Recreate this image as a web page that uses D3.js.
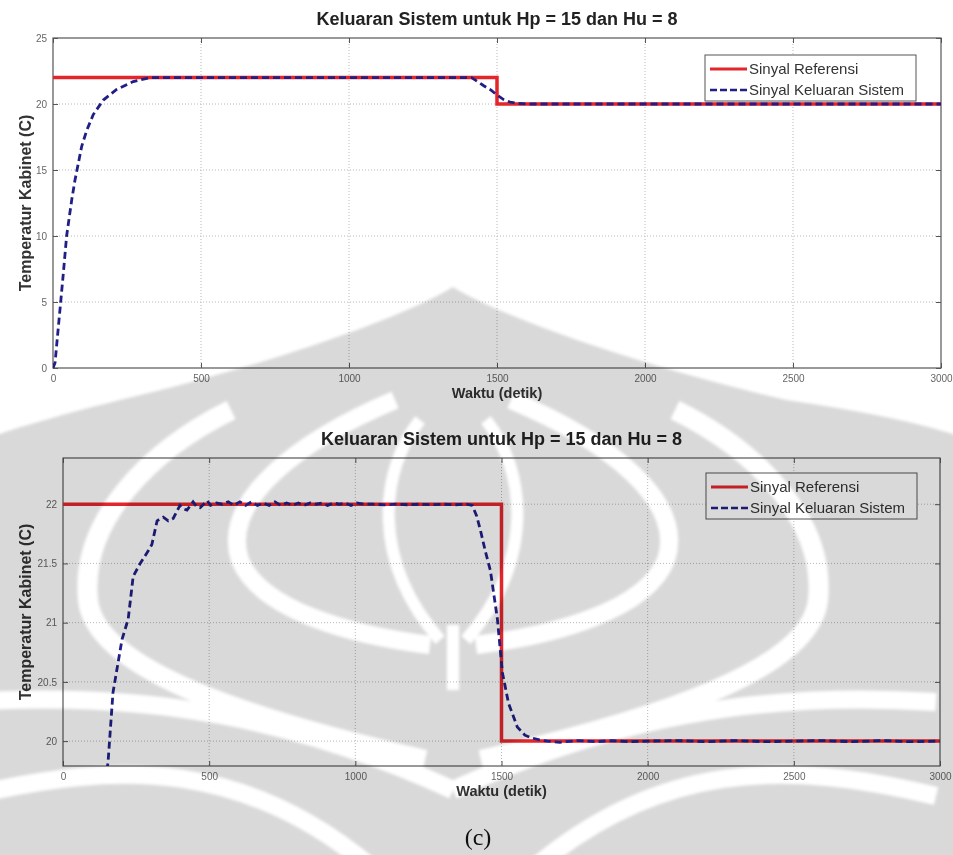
<!DOCTYPE html>
<html>
<head>
<meta charset="utf-8">
<script src="https://cdn.jsdelivr.net/npm/d3@7"></script>
<style>
  body { margin: 0; background: #fff; }
  svg { display: block; font-family: "Liberation Sans", Arial, sans-serif; }
</style>
</head>
<body>
<svg id="chart" width="953" height="855"></svg>
<script>
// ---- data ----
const chartTitle = "Keluaran Sistem untuk Hp = 15 dan Hu = 8";
const xLabel = "Waktu (detik)";
const yLabel = "Temperatur Kabinet (C)";
const legendNames = ["Sinyal Referensi", "Sinyal Keluaran Sistem"];

const xTicks = [0, 500, 1000, 1500, 2000, 2500, 3000];
const topYTicks = [0, 5, 10, 15, 20, 25];
const bottomYTicks = [20, 20.5, 21, 21.5, 22];

// reference signal (step from 22 to 20 at t = 1500)
const refTime  = [0, 1500, 1500, 3000];
const refValue = [22, 22, 20, 20];

// system output, upper plot (full range)
const topTime   = [0, 7, 18, 26, 35, 46, 63, 74, 97, 114, 136, 170, 215, 271, 328, 405, 800, 1200, 1414, 1454, 1480, 1499, 1521, 1544, 1565, 1600, 2000, 2500, 3000];
const topOutput = [0, 0.4, 3.1, 5.0, 7.2, 10.0, 12.7, 14.2, 16.8, 18.0, 19.2, 20.3, 21.1, 21.7, 22.0, 22.0, 22.0, 22.0, 22.0, 21.4, 21.05, 20.7, 20.35, 20.15, 20.05, 20.0, 20.0, 20.0, 20.0];

// system output, lower plot (zoomed in)
const bottomTime = [120, 154, 171, 202, 223, 240, 264, 290, 304, 322, 343, 360, 377, 400, 412, 424, 445, 457, 469, 481, 493, 505,
  525, 545, 565, 585, 605, 625, 645, 665, 685, 705, 725, 745, 765, 785, 805, 825, 845, 865, 885, 905, 925, 945, 965, 985,
  1005, 1030, 1060, 1100, 1140, 1180, 1220, 1260, 1300, 1340, 1380, 1400,
  1415, 1428, 1445, 1462, 1486, 1503, 1524, 1554, 1580, 1599, 1630, 1657,
  1700, 1760, 1820, 1880, 1940, 2000, 2100, 2200, 2300, 2400, 2500, 2600, 2700, 2800, 2900, 3000];
const bottomOutput = [19.2, 19.82, 20.41, 20.86, 21.03, 21.39, 21.50, 21.60, 21.66, 21.86, 21.89, 21.86, 21.88, 21.99, 21.96, 21.95, 22.02, 21.98, 21.97, 22.00, 22.03, 21.99,
  22.01, 22.00, 22.02, 21.99, 22.02, 21.99, 22.02, 21.99, 22.01, 21.99, 22.02, 21.99, 22.01, 21.99, 22.01, 21.99, 22.01, 22.00, 22.01, 21.99, 22.01, 22.00, 22.01, 21.99,
  22.01, 22.00, 22.00, 21.995, 22.00, 21.995, 22.00, 21.995, 22.00, 21.995, 22.00, 21.99,
  21.90, 21.78, 21.60, 21.44, 21.03, 20.58, 20.32, 20.12, 20.05, 20.03, 20.01, 20.00,
  19.99, 20.005, 19.995, 20.005, 19.995, 20.0, 20.005, 19.995, 20.005, 19.995, 20.0, 20.005, 19.995, 20.005, 19.995, 20.0];

// ---- drawing ----
const svg = d3.select("#chart");
const FONT = "'Liberation Sans', Arial, sans-serif";
const RED = "#e3262b", BLUE = "#1f1f86";

const panels = [
  { id: "top", left: 53, right: 941, top: 38, bottom: 368, yDomain: [0, 25], yTicks: topYTicks,
    outTime: topTime, outValue: topOutput, legendX: 705, legendY: 55 },
  { id: "bot", left: 63, right: 940, top: 458, bottom: 766, yDomain: [19.79, 22.39], yTicks: bottomYTicks,
    outTime: bottomTime, outValue: bottomOutput, legendX: 706, legendY: 473 }
];

panels.forEach(function(p) {
  const x = d3.scaleLinear().domain([0, 3000]).range([p.left, p.right]);
  const y = d3.scaleLinear().domain(p.yDomain).range([p.bottom, p.top]);
  const g = svg.append("g");

  // grid
  g.selectAll(".gx").data(xTicks.slice(1, -1)).enter().append("line")
    .attr("x1", d => x(d)).attr("x2", d => x(d))
    .attr("y1", p.top).attr("y2", p.bottom)
    .attr("stroke", "#b8b8b8").attr("stroke-dasharray", "1,2");
  g.selectAll(".gy").data(p.yTicks.filter(d => y(d) > p.top + 1 && y(d) < p.bottom - 1)).enter().append("line")
    .attr("x1", p.left).attr("x2", p.right)
    .attr("y1", d => y(d)).attr("y2", d => y(d))
    .attr("stroke", "#b8b8b8").attr("stroke-dasharray", "1,2");

  // axes, MATLAB style ticks pointing inside
  const fmt = d => String(d);
  const ax = [
    g.append("g").attr("transform", `translate(0,${p.bottom})`).call(d3.axisBottom(x).tickValues(xTicks).tickSize(-5).tickPadding(7).tickFormat(fmt)),
    g.append("g").attr("transform", `translate(0,${p.top})`).call(d3.axisTop(x).tickValues(xTicks).tickSize(-5).tickFormat("")),
    g.append("g").attr("transform", `translate(${p.left},0)`).call(d3.axisLeft(y).tickValues(p.yTicks).tickSize(-5).tickPadding(6).tickFormat(fmt)),
    g.append("g").attr("transform", `translate(${p.right},0)`).call(d3.axisRight(y).tickValues(p.yTicks).tickSize(-5).tickFormat(""))
  ];
  ax.forEach(a => {
    a.select(".domain").remove();
    a.selectAll(".tick line").attr("stroke", "#555");
    a.selectAll(".tick text").attr("fill", "#666").style("font-size", "10px").style("font-family", FONT);
  });

  // box
  g.append("rect").attr("x", p.left).attr("y", p.top)
    .attr("width", p.right - p.left).attr("height", p.bottom - p.top)
    .attr("fill", "none").attr("stroke", "#555").attr("stroke-width", 1.2);

  // lines
  g.append("clipPath").attr("id", "clip-" + p.id).append("rect")
    .attr("x", p.left).attr("y", p.top).attr("width", p.right - p.left).attr("height", p.bottom - p.top);
  const lines = g.append("g").attr("clip-path", `url(#clip-${p.id})`);
  const line = d3.line().x(d => x(d[0])).y(d => y(d[1]));
  lines.append("path").datum(d3.zip(refTime, refValue))
    .attr("d", line).attr("fill", "none").attr("stroke", RED).attr("stroke-width", 3.5);
  lines.append("path").datum(d3.zip(p.outTime, p.outValue))
    .attr("d", line).attr("fill", "none").attr("stroke", BLUE).attr("stroke-width", 2.8)
    .attr("stroke-dasharray", "7,4");

  // titles
  g.append("text").attr("x", (p.left + p.right) / 2).attr("y", p.top - 13)
    .attr("text-anchor", "middle").style("font-size", "18px").style("font-weight", "bold")
    .attr("fill", "#222").text(chartTitle);
  g.append("text").attr("x", (p.left + p.right) / 2).attr("y", p.bottom + 30)
    .attr("text-anchor", "middle").style("font-size", "14.5px").style("font-weight", "bold")
    .attr("fill", "#333").text(xLabel);
  g.append("text").attr("transform", `translate(31,${(p.top + p.bottom) / 2}) rotate(-90)`)
    .attr("text-anchor", "middle").style("font-size", "16px").style("font-weight", "bold")
    .attr("fill", "#333").text(yLabel);

  // legend
  const lg = g.append("g").attr("transform", `translate(${p.legendX},${p.legendY})`);
  lg.append("rect").attr("width", 211).attr("height", 46)
    .attr("fill", "#fff").attr("stroke", "#555");
  legendNames.forEach(function(name, i) {
    const yy = 14 + i * 21;
    lg.append("line").attr("x1", 5).attr("x2", 42).attr("y1", yy).attr("y2", yy)
      .attr("stroke", i === 0 ? RED : BLUE).attr("stroke-width", i === 0 ? 3 : 2.5)
      .attr("stroke-dasharray", i === 0 ? null : "7,3");
    lg.append("text").attr("x", 44).attr("y", yy + 5).style("font-size", "15px")
      .attr("fill", "#333").text(name);
  });
});

// caption
svg.append("text").attr("x", 478).attr("y", 845).attr("text-anchor", "middle")
  .style("font-family", "'Liberation Serif', 'Times New Roman', serif").style("font-size", "24px")
  .attr("fill", "#111").text("(c)");

// faint watermark laid over the page
svg.append("filter").attr("id", "soft").append("feGaussianBlur").attr("stdDeviation", 1.5);
const wm = svg.append("g").style("mix-blend-mode", "multiply").attr("filter", "url(#soft)");
wm.append("path")
  .attr("d", "M453,287 C400,320 250,370 120,400 C60,415 0,432 -30,445 L-30,885 L983,885 L983,445 C953,432 893,415 786,400 C656,370 506,320 453,287 Z")
  .attr("fill", "#d9d9d9");
const bands = [
  ["M231,410 C150,450 80,520 88,600 C95,670 250,720 425,760", 20],
  ["M395,400 C300,440 220,500 240,560 C260,610 350,635 430,645", 18],
  ["M420,420 C380,470 370,560 440,640", 12],
  ["M-30,702 C150,690 300,720 453,790", 18],
  ["M-30,796 C120,760 250,760 380,875", 18]
];
[1, -1].forEach(function(s) {
  const side = wm.append("g").attr("transform", s === 1 ? null : "translate(906,0) scale(-1,1)");
  bands.forEach(function(b) {
    side.append("path").attr("d", b[0]).attr("fill", "none")
      .attr("stroke", "#fff").attr("stroke-width", b[1]);
  });
});
wm.append("line").attr("x1", 453).attr("x2", 453).attr("y1", 625).attr("y2", 690)
  .attr("stroke", "#fff").attr("stroke-width", 12);
</script>
</body>
</html>
